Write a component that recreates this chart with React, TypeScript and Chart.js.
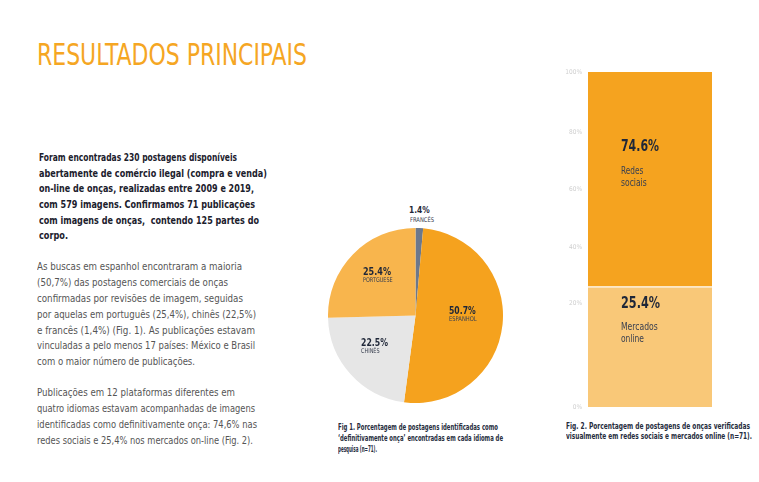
import React, { useEffect, useLayoutEffect, useRef } from 'react';
import { Chart, registerables, LinearScale } from 'chart.js';

// ---------- data ----------
const languageLabels = ['FRANCÊS', 'ESPANHOL', 'CHINÊS', 'PORTGUESE'];
const languageShares = [1.4, 50.7, 22.5, 25.4];
const platformLabels = ['Mercados online', 'Redes sociais'];
const platformShares = [25.4, 74.6];
const percentTickValues = [0, 20, 40, 60, 80, 100];

// ---------- styles ----------
const FONT = '"Liberation Sans Narrow", "DejaVu Sans Condensed", "Arial Narrow", sans-serif';
const languageColors = ['#6C788C', '#F5A21E', '#E6E6E6', '#F8B54D'];
const platformColors = ['#F9C878', '#F5A31F'];
const NAVY = '#1F2738';
// axis as drawn in the figure (tick label positions, fraction of bar height)
const tickFractions = [0, 0.3104, 0.4776, 0.6507, 0.8209, 1];

class PiecewiseScale extends LinearScale {
  static id = 'piecewise';
  static defaults = LinearScale.defaults;
  private frac(value: number): number {
    const vs = percentTickValues;
    const fs = tickFractions;
    if (value <= vs[0]) return fs[0];
    for (let i = 1; i < vs.length; i++) {
      if (value <= vs[i]) {
        const t = (value - vs[i - 1]) / (vs[i] - vs[i - 1]);
        return fs[i - 1] + t * (fs[i] - fs[i - 1]);
      }
    }
    return fs[fs.length - 1];
  }
  getPixelForValue(value: number) {
    if (value === null || value === undefined || isNaN(value as any)) return NaN;
    return this.getPixelForDecimal(this.frac(value));
  }
  getValueForPixel(pixel: number) {
    const d = this.getDecimalForPixel(pixel);
    const vs = percentTickValues;
    const fs = tickFractions;
    for (let i = 1; i < fs.length; i++) {
      if (d <= fs[i]) {
        const t = (d - fs[i - 1]) / (fs[i] - fs[i - 1]);
        return vs[i - 1] + t * (vs[i] - vs[i - 1]);
      }
    }
    return vs[vs.length - 1];
  }
}

Chart.register(...registerables, PiecewiseScale as any);

type TProps = {
  x: number; y: number; w: number; size: number; weight?: number | string;
  color: string; text: string; family?: string;
};

function T({ x, y, w, size, weight = 400, color, text, family = FONT }: TProps) {
  const ref = useRef<HTMLSpanElement>(null);
  useLayoutEffect(() => {
    const el = ref.current;
    if (!el) return;
    const fit = () => {
      el.style.transform = 'none';
      const nat = el.getBoundingClientRect().width;
      if (nat > 0) el.style.transform = `scaleX(${w / nat})`;
    };
    fit();
    const fonts = (document as any).fonts;
    if (fonts && fonts.ready) fonts.ready.then(fit);
  }, [w, text, size]);
  return (
    <span
      ref={ref}
      style={{
        position: 'absolute',
        left: x,
        top: y - 0.846 * size,
        fontSize: size,
        lineHeight: `${size}px`,
        fontWeight: weight as any,
        color,
        fontFamily: family,
        whiteSpace: 'pre',
        display: 'inline-block',
        transformOrigin: '0 0',
      }}
    >
      {text}
    </span>
  );
}

function PieChart() {
  const ref = useRef<HTMLCanvasElement>(null);
  useEffect(() => {
    const chart = new Chart(ref.current!, {
      type: 'pie',
      data: {
        labels: languageLabels,
        datasets: [
          {
            data: languageShares,
            backgroundColor: languageColors,
            borderWidth: 0,
            hoverOffset: 0,
          },
        ],
      },
      options: {
        responsive: false,
        animation: false,
        events: [],
        layout: { padding: 0 },
        plugins: { legend: { display: false }, tooltip: { enabled: false } },
      },
    });
    return () => chart.destroy();
  }, []);
  return (
    <canvas
      ref={ref}
      width={175}
      height={175}
      style={{ position: 'absolute', left: 328, top: 228, width: 175, height: 175 }}
    />
  );
}

function BarChart() {
  const ref = useRef<HTMLCanvasElement>(null);
  useEffect(() => {
    const chart = new Chart(ref.current!, {
      type: 'bar',
      data: {
        labels: [''],
        datasets: platformLabels.map((label, i) => ({
          label,
          data: [platformShares[i]],
          backgroundColor: platformColors[i],
          borderColor: '#FFFFFF',
          borderWidth: i === 1 ? { top: 0, right: 0, bottom: 2, left: 0 } : 0,
          borderSkipped: false,
          barPercentage: 1,
          categoryPercentage: 1,
        })) as any,
      },
      options: {
        responsive: false,
        animation: false,
        events: [],
        layout: { padding: { top: 12, right: 13, bottom: 13, left: 0 } },
        plugins: { legend: { display: false }, tooltip: { enabled: false } },
        scales: {
          x: { display: false, stacked: true },
          y: {
            type: 'piecewise' as any,
            stacked: true,
            min: 0,
            max: 100,
            grid: { display: false, drawTicks: false },
            border: { display: false },
            ticks: {
              stepSize: 20,
              padding: 6,
              color: '#CFCFCF',
              font: { family: FONT, size: 6.5 },
              callback: (v: any) => `${v}%`,
            },
            afterFit: (s: any) => {
              s.width = 38;
            },
          } as any,
        },
      },
    });
    return () => chart.destroy();
  }, []);
  return (
    <canvas
      ref={ref}
      width={175}
      height={360}
      style={{ position: 'absolute', left: 550, top: 60, width: 175, height: 360 }}
    />
  );
}

const pct = (v: number) => `${v.toFixed(1)}%`;

export default function App() {
  const p1 = [
    ['Foram encontradas 230 postagens disponíveis', 198],
    ['abertamente de comércio ilegal (compra e venda)', 228],
    ['on-line de onças, realizadas entre 2009 e 2019,', 215],
    ['com 579 imagens. Confirmamos 71 publicações', 216],
    ['com imagens de onças,  contendo 125 partes do', 220],
    ['corpo.', 29],
  ] as [string, number][];
  const p2 = [
    ['As buscas em espanhol encontraram a maioria', 205],
    ['(50,7%) das postagens comerciais de onças', 191],
    ['confirmadas por revisões de imagem, seguidas', 206],
    ['por aquelas em português (25,4%), chinês (22,5%)', 219],
    ['e francês (1,4%) (Fig. 1). As publicações estavam', 218],
    ['vinculadas a pelo menos 17 países: México e Brasil', 218],
    ['com o maior número de publicações.', 158],
  ] as [string, number][];
  const p3 = [
    ['Publicações em 12 plataformas diferentes em', 198],
    ['quatro idiomas estavam acompanhadas de imagens', 218],
    ['identificadas como definitivamente onça: 74,6% nas', 220],
    ['redes sociais e 25,4% nos mercados on-line (Fig. 2).', 216],
  ] as [string, number][];

  return (
    <div
      style={{
        position: 'fixed',
        left: 0,
        top: 0,
        width: 759,
        height: 482,
        background: '#FFFFFF',
        overflow: 'hidden',
      }}
    >
      <T x={37} y={65.7} w={270} size={30} weight={400} color="#F5A623" text="RESULTADOS PRINCIPAIS" />

      {p1.map(([t, w], i) => (
        <T key={'a' + i} x={39} y={161.2 + i * 15.7} w={w} size={11} weight={700} color="#1B202C" text={t} />
      ))}
      {p2.map(([t, w], i) => (
        <T key={'b' + i} x={37} y={270.7 + i * 15.8} w={w} size={11} weight={400} color="#555555" text={t} />
      ))}
      {p3.map(([t, w], i) => (
        <T key={'c' + i} x={37} y={396.7 + i * 15.8} w={w} size={11} weight={400} color="#555555" text={t} />
      ))}

      <PieChart />
      <T x={409.3} y={214} w={20.7} size={9} weight={700} color={NAVY} text={pct(languageShares[0])} />
      <T x={410} y={222.3} w={24} size={6.5} color="#3A4050" text={languageLabels[0]} />
      <T x={449} y={314} w={26.7} size={11} weight={700} color={NAVY} text={pct(languageShares[1])} />
      <T x={449} y={321.7} w={27.7} size={6.5} color="#3A4050" text={languageLabels[1]} />
      <T x={360.7} y={346.7} w={27} size={11} weight={700} color={NAVY} text={pct(languageShares[2])} />
      <T x={360.7} y={353.7} w={18.6} size={6.5} color="#3A4050" text={languageLabels[2]} />
      <T x={363} y={275.7} w={28} size={11} weight={700} color={NAVY} text={pct(languageShares[3])} />
      <T x={363} y={282.7} w={29.7} size={6.5} color="#3A4050" text={languageLabels[3]} />

      <T x={338} y={430.5} w={160} size={9} weight={700} color="#262D3D" text="Fig 1. Porcentagem de postagens identificadas como" />
      <T x={338} y={441.5} w={165} size={9} weight={700} color="#262D3D" text="‘definitivamente onça’ encontradas em cada idioma de" />
      <T x={338} y={452.5} w={39} size={9} weight={700} color="#262D3D" text="pesquisa (n=71)." />

      <BarChart />
      <T x={621} y={151.7} w={38} size={16} weight={700} color={NAVY} text={pct(platformShares[1])} />
      <T x={621} y={174} w={22.3} size={11} color="#3A4050" text="Redes" />
      <T x={621} y={186.7} w={25.7} size={11} color="#3A4050" text="sociais" />
      <T x={621} y={308.3} w={39} size={16} weight={700} color={NAVY} text={pct(platformShares[0])} />
      <T x={621} y={330} w={36.7} size={11} color="#3A4050" text="Mercados" />
      <T x={621} y={342} w={23} size={11} color="#3A4050" text="online" />

      <T x={566} y={429.5} w={184} size={9} weight={700} color="#262D3D" text="Fig. 2. Porcentagem de postagens de onças verificadas" />
      <T x={566} y={440} w={186} size={9} weight={700} color="#262D3D" text="visualmente em redes sociais e mercados online (n=71)." />
    </div>
  );
}
